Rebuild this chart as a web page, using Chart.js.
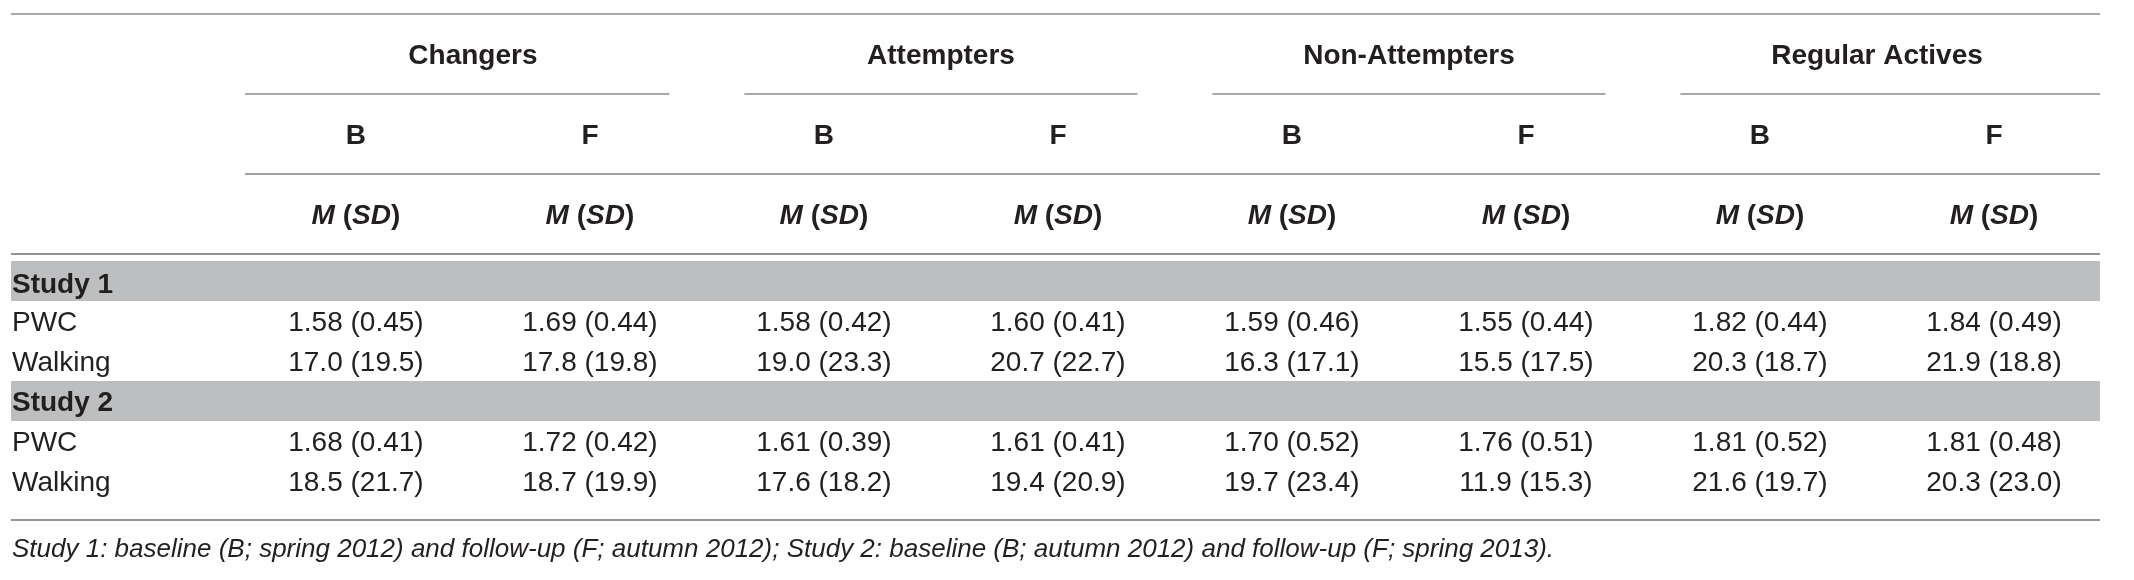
<!DOCTYPE html>
<html>
<head>
<meta charset="utf-8">
<script src="https://cdn.jsdelivr.net/npm/chart.js@4.4.1/dist/chart.umd.min.js"></script>
<style>
  html, body { margin: 0; padding: 0; background: #ffffff; }
  #wrap { width: 2134px; height: 580px; }
</style>
</head>
<body>
<div id="wrap"><canvas id="myChart" width="2134" height="580"></canvas></div>
<script>
// table content
const groups = ['Changers', 'Attempters', 'Non-Attempters', 'Regular Actives'];
const waves = ['B', 'F'];
const studies = ['Study 1', 'Study 2'];
const measures = ['PWC', 'Walking'];

const study1PwcM = [1.58, 1.69, 1.58, 1.60, 1.59, 1.55, 1.82, 1.84];
const study1PwcSD = [0.45, 0.44, 0.42, 0.41, 0.46, 0.44, 0.44, 0.49];
const study1WalkM = [17.0, 17.8, 19.0, 20.7, 16.3, 15.5, 20.3, 21.9];
const study1WalkSD = [19.5, 19.8, 23.3, 22.7, 17.1, 17.5, 18.7, 18.8];

const study2PwcM = [1.68, 1.72, 1.61, 1.61, 1.70, 1.76, 1.81, 1.81];
const study2PwcSD = [0.41, 0.42, 0.39, 0.41, 0.52, 0.51, 0.52, 0.48];
const study2WalkM = [18.5, 18.7, 17.6, 19.4, 19.7, 11.9, 21.6, 20.3];
const study2WalkSD = [21.7, 19.9, 18.2, 20.9, 23.4, 15.3, 19.7, 23.0];

const footnote = 'Study 1: baseline (B; spring 2012) and follow-up (F; autumn 2012); Study 2: baseline (B; autumn 2012) and follow-up (F; spring 2013).';

// layout in scale units (x: one unit per data column, y: one unit per body row)
const BODY_TOP = 6.175;
const BOTTOM_RULE = 12.65;
const FOOT_Y = 13.33;
const MSD_Y = 5;
const INSET = 0.16;
const FONT = '"Liberation Sans", Arial, Helvetica, sans-serif';
const TEXT = '#231f20';
// small nudges of the text inside the body rows
const rowNudge = [0.05, 0, 0, 0, 0, 0];

const bodyRows = [
    { label: studies[0], band: true },
    { label: measures[0], m: study1PwcM, sd: study1PwcSD, digits: 2 },
    { label: measures[1], m: study1WalkM, sd: study1WalkSD, digits: 1 },
    { label: studies[1], band: true },
    { label: measures[0], m: study2PwcM, sd: study2PwcSD, digits: 2 },
    { label: measures[1], m: study2WalkM, sd: study2WalkSD, digits: 1 }
];

function rowY(i) {
    return BODY_TOP + i + 0.5 + rowNudge[i];
}

const datasets = bodyRows.filter(r => !r.band).map(r => {
    const y = rowY(bodyRows.indexOf(r));
    return {
        label: r.label,
        data: r.m.map((v, i) => ({ x: i + 0.5, y: y })),
        texts: r.m.map((v, i) => v.toFixed(r.digits) + ' (' + r.sd[i].toFixed(r.digits) + ')'),
        pointRadius: 0,
        pointHoverRadius: 0,
        showLine: false
    };
});

function hLine(ctx, x1, x2, y, color, width) {
    ctx.beginPath();
    ctx.strokeStyle = color;
    ctx.lineWidth = width;
    ctx.moveTo(x1, y);
    ctx.lineTo(x2, y);
    ctx.stroke();
}

function text(ctx, str, x, y, font, align) {
    ctx.font = font;
    ctx.fillStyle = TEXT;
    ctx.textAlign = align || 'center';
    ctx.textBaseline = 'alphabetic';
    ctx.fillText(str, x, y + 10);
}

// "M (SD)" with italic letters and upright brackets
function msdHeader(ctx, cx, y) {
    const parts = [
        ['M', 'italic bold 28px ' + FONT],
        [' (', 'bold 28px ' + FONT],
        ['SD', 'italic bold 28px ' + FONT],
        [')', 'bold 28px ' + FONT]
    ];
    let total = 0;
    parts.forEach(p => { ctx.font = p[1]; total += ctx.measureText(p[0]).width; });
    let x = cx - total / 2;
    parts.forEach(p => {
        text(ctx, p[0], x, y, p[1], 'left');
        ctx.font = p[1];
        x += ctx.measureText(p[0]).width;
    });
}

const tablePlugin = {
    id: 'tablePlugin',
    beforeDatasetsDraw(chart) {
        const { ctx, chartArea, scales } = chart;
        const xs = scales.x, ys = scales.y;
        ctx.save();
        // study bands
        bodyRows.forEach((r, i) => {
            if (!r.band) return;
            const top = ys.getPixelForValue(BODY_TOP + i);
            const bot = ys.getPixelForValue(BODY_TOP + i + 1);
            ctx.fillStyle = '#bcbec0';
            ctx.fillRect(chartArea.left, top, chartArea.right - chartArea.left, bot - top);
            text(ctx, r.label, chartArea.left + 1, ys.getPixelForValue(rowY(i)), 'bold 28px ' + FONT, 'left');
        });
        // rules
        hLine(ctx, chartArea.left, chartArea.right, ys.getPixelForValue(0), '#a7a9ac', 2);
        groups.forEach((g, i) => {
            const a = i === 0 ? 0.026 : 2 * i + INSET;
            const b = i === groups.length - 1 ? xs.max : 2 * i + 2 - INSET;
            hLine(ctx, xs.getPixelForValue(a), xs.getPixelForValue(b), ys.getPixelForValue(2), '#a7a9ac', 2);
            text(ctx, g, xs.getPixelForValue(2 * i + 1), ys.getPixelForValue(1), 'bold 28px ' + FONT);
        });
        hLine(ctx, xs.getPixelForValue(0.026), chartArea.right, ys.getPixelForValue(4), '#808285', 1.5);
        hLine(ctx, chartArea.left, chartArea.right, ys.getPixelForValue(6), '#6d6e71', 1.5);
        hLine(ctx, chartArea.left, chartArea.right, ys.getPixelForValue(BOTTOM_RULE), '#939598', 2);
        // wave and M (SD) headers
        for (let c = 0; c < groups.length * waves.length; c++) {
            const cx = xs.getPixelForValue(c + 0.5);
            text(ctx, waves[c % 2], cx, ys.getPixelForValue(3), 'bold 28px ' + FONT);
            msdHeader(ctx, cx, ys.getPixelForValue(MSD_Y));
        }
        // footnote
        text(ctx, footnote, chartArea.left + 1, ys.getPixelForValue(FOOT_Y), 'italic 26px ' + FONT, 'left');
        ctx.restore();
    },
    afterDatasetsDraw(chart) {
        const { ctx, chartArea } = chart;
        ctx.save();
        chart.data.datasets.forEach((ds, d) => {
            const meta = chart.getDatasetMeta(d);
            text(ctx, ds.label, chartArea.left + 1, meta.data[0].y, '28px ' + FONT, 'left');
            meta.data.forEach((pt, i) => {
                text(ctx, ds.texts[i], pt.x, pt.y, '28px ' + FONT);
            });
        });
        ctx.restore();
    }
};

const ctx = document.getElementById('myChart').getContext('2d');
const chart = new Chart(ctx, {
    type: 'scatter',
    data: { datasets: datasets },
    options: {
        responsive: false,
        animation: false,
        events: [],
        layout: { padding: { left: 11, right: 34, top: 0, bottom: 0 } },
        plugins: { legend: { display: false }, tooltip: { enabled: false } },
        scales: {
            x: { type: 'linear', display: false, min: -0.974, max: 7.953 },
            y: { type: 'linear', display: false, reverse: true, min: -0.35, max: 14.15 }
        }
    },
    plugins: [tablePlugin]
});
</script>
</body>
</html>
